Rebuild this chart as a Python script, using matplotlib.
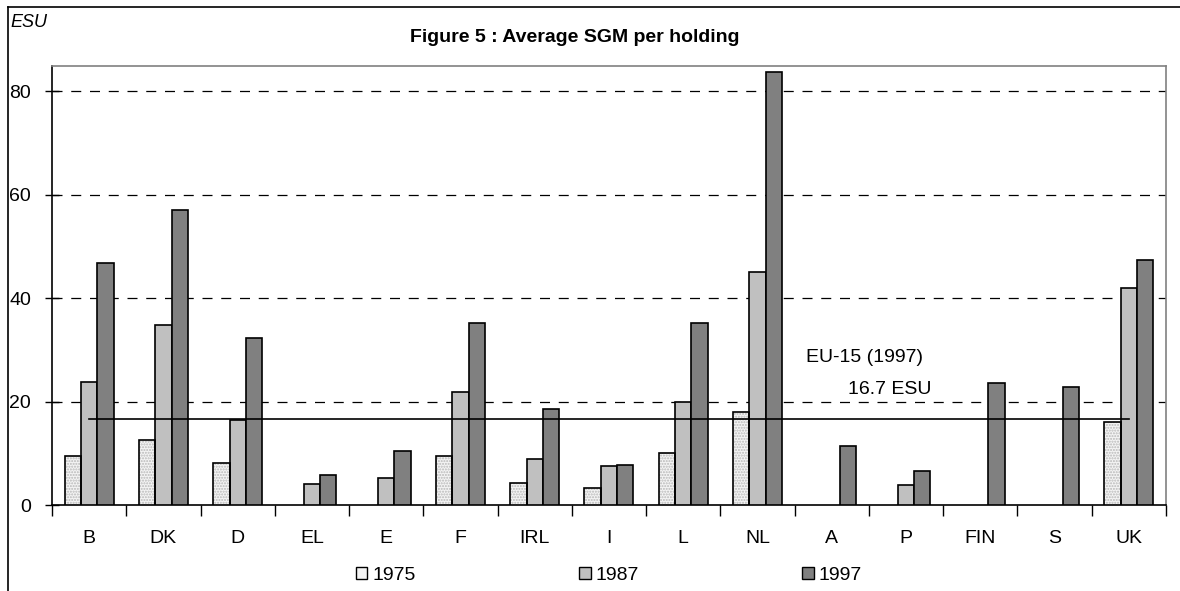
import numpy as np
import matplotlib
matplotlib.use("Agg")
import matplotlib.pyplot as plt
from matplotlib.lines import Line2D

plt.rcParams['font.family'] = ['Liberation Sans', 'DejaVu Sans']

# Data (ESU per holding).
countries = ["B", "DK", "D", "EL", "E", "F", "IRL", "I", "L", "NL", "A", "P", "FIN", "S", "UK"]
years = ["1975", "1987", "1997"]
v1975 = [9.5, 12.6, 8.1, 0, 0, 9.5, 4.2, 3.3, 10.0, 18.0, 0, 0, 0, 0, 16.0]
v1987 = [23.8, 34.8, 16.4, 4.1, 5.2, 21.8, 8.9, 7.5, 19.9, 45.0, 0, 3.9, 0, 0, 42.0]
v1997 = [46.8, 57.0, 32.3, 5.8, 10.4, 35.2, 18.6, 7.7, 35.2, 83.7, 11.4, 6.6, 23.6, 22.8, 47.4]
eu15 = 16.7

fig = plt.figure(figsize=(11.8, 5.91), dpi=100)
ax = fig.add_axes([0.0441, 0.1455, 0.9439, 0.7425])

x = np.arange(len(countries))
w = 0.22

# 1975 bars: stippled light fill, then black outline.
m75 = np.array(v1975) > 0
ax.bar(x[m75] - w, np.array(v1975)[m75], w, facecolor="#f4f4f4", edgecolor="#b8b8b8",
       hatch="......", linewidth=0, zorder=3)
ax.bar(x[m75] - w, np.array(v1975)[m75], w, facecolor="none", edgecolor="black", linewidth=1.2, zorder=4)
m87 = np.array(v1987) > 0
ax.bar(x[m87], np.array(v1987)[m87], w, color="#c0c0c0", edgecolor="black", linewidth=1.2, zorder=3)
ax.bar(x + w, v1997, w, color="#808080", edgecolor="black", linewidth=1.2, zorder=3)

# EU-15 average line
ax.plot([x[0], x[-1]], [eu15, eu15], color="black", linewidth=1.2, zorder=5)
ax.text(10.44, 28.6, "EU-15 (1997)", ha="center", va="center", fontsize=14)
ax.text(10.78, 22.4, "%.1f ESU" % eu15, ha="center", va="center", fontsize=14)

ax.set_xlim(-0.5, len(countries) - 0.5)
ax.set_ylim(0, 84.8)
ax.set_yticks([0, 20, 40, 60, 80])
ax.tick_params(axis="y", direction="inout", length=10, width=1, labelsize=14, pad=10)
ax.set_xticks(np.arange(len(countries) + 1) - 0.5)
ax.set_xticklabels([])
ax.set_xticks(x, minor=True)
ax.set_xticklabels(countries, minor=True, fontsize=14)
ax.tick_params(axis="x", which="major", direction="out", length=8, width=1)
ax.tick_params(axis="x", which="minor", length=0, pad=18)

for yv in [20, 40, 60, 80]:
    ax.axhline(yv, color="black", linewidth=0.9, linestyle=(0, (8, 7)), zorder=1)

ax.spines["left"].set_color("black")
ax.spines["bottom"].set_color("black")
ax.spines["top"].set_color("#808080")
ax.spines["right"].set_color("#808080")
for s in ax.spines.values():
    s.set_linewidth(1.2)

# legend
handles = [plt.Rectangle((0, 0), 1, 1, facecolor=c, edgecolor="black", linewidth=1)
           for c in ["#f4f4f4", "#c0c0c0", "#808080"]]
fig.legend(handles, years, loc="center", bbox_to_anchor=(0.516, 0.027), ncol=3, frameon=False,
           fontsize=14, handlelength=0.6, handleheight=0.6, handletextpad=0.25, columnspacing=8.4)

fig.text(0.487, 0.937, "Figure 5 : Average SGM per holding", ha="center", va="center",
         fontsize=14, fontweight="bold")
fig.text(0.009, 0.962, "ESU", ha="left", va="center", fontsize=13, style="italic")

# outer chart border (left and top)
fig.add_artist(Line2D([0.0068, 0.0068], [0, 0.988], color="black", linewidth=1.2, transform=fig.transFigure))
fig.add_artist(Line2D([0.0068, 1.0], [0.988, 0.988], color="black", linewidth=1.2, transform=fig.transFigure))

fig.savefig("out.png", dpi=100)
